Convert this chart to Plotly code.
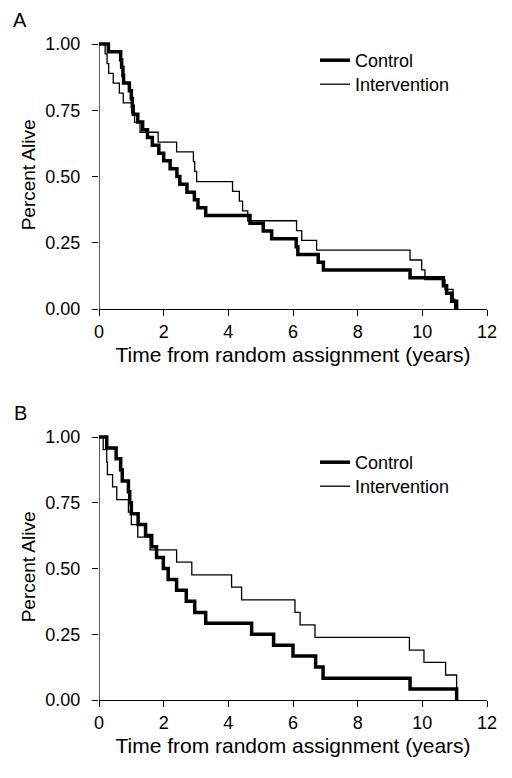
import plotly.graph_objects as go

# Panel A
a_ctrl_t = [0, 0.29, 0.67, 0.70, 0.74, 0.76, 0.94, 1.00, 1.03, 1.06, 1.20, 1.35, 1.50, 1.65, 1.85, 2.00,
            2.20, 2.41, 2.50, 2.72, 2.95, 3.06, 3.30, 4.67, 5.08, 5.34, 6.10, 6.15, 6.78, 6.94, 9.62,
            10.65, 10.75, 10.91, 11.06]
a_ctrl_s = [1, .971, .941, .912, .882, .853, .824, .794, .765, .735, .706, .676, .647, .618, .588, .559,
            .529, .5, .471, .441, .412, .382, .353, .324, .294, .265, .235, .206, .176, .147, .118,
            .088, .059, .029, 0]
a_int_t = [0, 0.19, 0.25, 0.30, 0.44, 0.63, 0.75, 1.01, 1.10, 1.27, 1.83, 2.40, 2.92, 2.96, 3.02, 4.13,
           4.34, 4.44, 4.60, 6.11, 6.27, 6.73, 9.62, 9.98, 10.08, 10.70, 10.95, 11.00]
a_int_s = [1, .963, .926, .889, .852, .815, .778, .741, .704, .667, .630, .593, .556, .519, .481, .444,
           .407, .370, .333, .296, .259, .222, .185, .148, .111, .074, .037, 0]

# Panel B
b_ctrl_t = [0, 0.24, 0.53, 0.67, 0.72, 0.91, 0.95, 1.00, 1.21, 1.44, 1.63, 1.78, 1.99, 2.14, 2.40, 2.70,
            2.96, 3.30, 4.72, 5.40, 6.00, 6.70, 6.93, 9.62, 11.06]
b_ctrl_s = [1, .958, .917, .875, .833, .792, .75, .708, .667, .625, .583, .542, .5, .458, .417, .375,
            .333, .292, .25, .208, .167, .125, .083, .042, 0]
b_int_t = [0, 0.13, 0.24, 0.26, 0.42, 0.55, 0.91, 1.00, 1.20, 1.58, 2.40, 2.87, 4.10, 4.41, 6.06, 6.22,
           6.68, 9.60, 10.05, 10.72, 11.06]
b_int_s = [1, .952, .905, .857, .810, .762, .714, .667, .619, .571, .524, .476, .429, .381, .333, .286,
           .238, .190, .143, .095, 0]

x_ticks = [0, 2, 4, 6, 8, 10, 12]
y_ticks = [0, 0.25, 0.5, 0.75, 1.0]
y_tick_labels = ["0.00", "0.25", "0.50", "0.75", "1.00"]
series_names = ["Control", "Intervention"]
panel_labels = ["A", "B"]
x_title = "Time from random assignment (years)"
y_title = "Percent Alive"

FONT = "Liberation Sans, Arial, sans-serif"
OFF = 8  # page body margin
W, H = 512 - OFF, 778 - OFF

# pixel geometry in page coordinates, converted to figure coordinates
x0px, x12px = 99 - OFF, 487 - OFF
panel_geom = [(309 - OFF, 44 - OFF), (700 - OFF, 437 - OFF)]  # (y=0 px, y=1 px)
ytop = 1.012
legend_x_px = 315 - OFF
legend_tops = [[34, 58], [436, 460]]  # figure px, top of each legend item box

fig = go.Figure()

line_styles = [dict(color="black", width=3.5, shape="hv"), dict(color="black", width=1.3, shape="hv")]
panels = [
    ((a_ctrl_t, a_ctrl_s), (a_int_t, a_int_s)),
    ((b_ctrl_t, b_ctrl_s), (b_int_t, b_int_s)),
]
leg_n = 0
for p, series in enumerate(panels):
    sfx = "" if p == 0 else str(p + 1)
    for k, (t, s) in enumerate(series):
        leg_n += 1
        lname = "legend" if leg_n == 1 else "legend%d" % leg_n
        fig.add_trace(go.Scatter(x=t, y=s, mode="lines", line=line_styles[k], name=series_names[k],
                                 xaxis="x" + sfx, yaxis="y" + sfx, legend=lname, showlegend=True))
        fig.layout[lname] = dict(
            bgcolor="rgba(0,0,0,0)", font=dict(family=FONT, size=18, color="black"),
            xanchor="left", yanchor="top", itemwidth=30,
            x=(legend_x_px - x0px) / (x12px - x0px), y=1 - legend_tops[p][k] / H,
        )


def dom(y0px, y1px):
    scale = y0px - y1px
    top = y0px - scale * ytop
    return [1 - y0px / H, 1 - top / H]


axis_common = dict(showline=True, linecolor="black", linewidth=1.3, ticks="outside", ticklen=6,
                   tickwidth=1.3, tickcolor="black", showgrid=False, zeroline=False, automargin=False,
                   tickfont=dict(family=FONT, size=18, color="black"))

fig.update_layout(
    width=W, height=H, showlegend=True,
    margin=dict(l=x0px, r=W - x12px, t=0, b=0, autoexpand=False),
    plot_bgcolor="white", paper_bgcolor="white",
    font=dict(family=FONT, color="black"),
)

for i, (y0px, y1px) in enumerate(panel_geom):
    sfx = "" if i == 0 else str(i + 1)
    fig.layout["xaxis" + sfx] = dict(
        axis_common, range=[0, 12], tickvals=x_ticks, domain=[0, 1],
        anchor="y" + sfx, ticklabelstandoff=0,
        title=dict(text=x_title, font=dict(family=FONT, size=21), standoff=6),
    )
    fig.layout["yaxis" + sfx] = dict(
        axis_common, range=[0, ytop], tickvals=y_ticks, ticktext=y_tick_labels,
        domain=dom(y0px, y1px), anchor="x" + sfx, showline=False, ticklabelstandoff=8,
        title=dict(text=y_title, font=dict(family=FONT, size=19), standoff=4),
    )
    fig.add_shape(type="line", xref="x" + sfx, yref="y" + sfx, x0=0, x1=0, y0=0, y1=1,
                  line=dict(color="black", width=1.3))
    fig.add_annotation(text=panel_labels[i], xref="paper", yref="paper",
                       x=(20 - OFF - x0px) / (x12px - x0px), y=1 - (y1px - 24) / H,
                       showarrow=False, xanchor="center", yanchor="middle",
                       font=dict(family=FONT, size=20, color="black"))

fig.write_html("out.html")
